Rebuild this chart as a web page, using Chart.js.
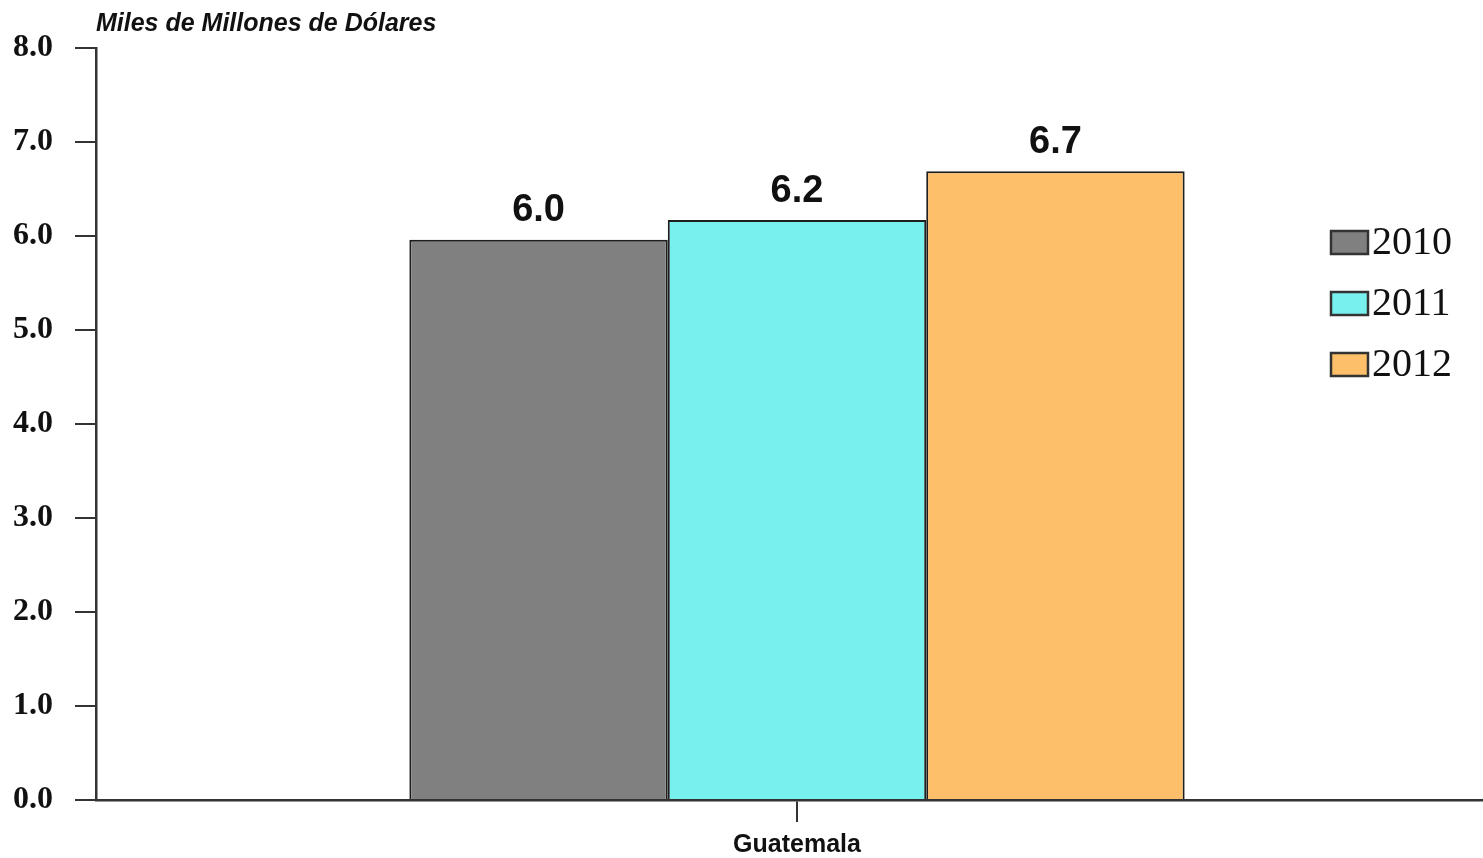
<!DOCTYPE html>
<html>
<head>
<meta charset="utf-8">
<script src="https://cdn.jsdelivr.net/npm/chart.js@4"></script>
<style>
  html, body { margin: 0; padding: 0; background: #fff; overflow: hidden; }
  #wrap { width: 1483px; height: 858px; overflow: hidden; }
</style>
</head>
<body>
<div id="wrap"><canvas id="exports" width="1498" height="858"></canvas></div>
<script>
var paises = ["Guatemala"];
var anios = ["2010", "2011", "2012"];
var valores_2010 = [5.96];
var valores_2011 = [6.17];
var valores_2012 = [6.69];
var ejeY = [0, 1, 2, 3, 4, 5, 6, 7, 8];

var colores = ["#808080", "#78F1EE", "#FDBF69"];
var borde = "#1e1e1e";

// unidades arriba del eje
var tituloPlugin = {
	id: "unidades",
	afterDraw: function(chart) {
		var ctx = chart.ctx;
		ctx.save();
		ctx.font = "italic bold 25px 'Liberation Sans', Arial, sans-serif";
		ctx.fillStyle = "#111";
		ctx.textBaseline = "middle";
		ctx.textAlign = "left";
		ctx.fillText("Miles de Millones de Dólares", chart.chartArea.left, 24);
		ctx.restore();
	}
};

// valores sobre cada barra
var valoresPlugin = {
	id: "valores",
	afterDatasetsDraw: function(chart) {
		var ctx = chart.ctx;
		ctx.save();
		ctx.font = "bold 38px 'Liberation Sans Narrow', 'Liberation Sans', Arial, sans-serif";
		ctx.fillStyle = "#111";
		ctx.textAlign = "center";
		ctx.textBaseline = "bottom";
		chart.data.datasets.forEach(function(ds, i) {
			chart.getDatasetMeta(i).data.forEach(function(bar, j) {
				ctx.fillText(ds.data[j].toFixed(1), bar.x, bar.y - 10);
			});
		});
		ctx.restore();
	}
};

// leyenda a la derecha
var leyendaPlugin = {
	id: "leyenda",
	afterDraw: function(chart) {
		var ctx = chart.ctx;
		ctx.save();
		chart.data.datasets.forEach(function(ds, i) {
			var y = 242 + i * 61;
			ctx.fillStyle = ds.backgroundColor;
			ctx.fillRect(1331, y - 11, 37, 23);
			ctx.lineWidth = 2.5;
			ctx.strokeStyle = "#333";
			ctx.strokeRect(1331, y - 11, 37, 23);
			ctx.fillStyle = "#111";
			ctx.font = "40px 'Liberation Serif', 'Times New Roman', serif";
			ctx.textAlign = "left";
			ctx.textBaseline = "middle";
			ctx.fillText(ds.label, 1372, y + 1);
		});
		ctx.restore();
	}
};

var chartdata = {
	labels: paises,
	datasets: [
		{
			label: anios[0],
			backgroundColor: colores[0],
			borderColor: borde,
			borderWidth: 2,
			data: valores_2010
		},
		{
			label: anios[1],
			backgroundColor: colores[1],
			borderColor: borde,
			borderWidth: 2,
			data: valores_2011
		},
		{
			label: anios[2],
			backgroundColor: colores[2],
			borderColor: borde,
			borderWidth: 2,
			data: valores_2012
		}
	]
};

var ctx = document.getElementById("exports");
var grafica = new Chart(ctx, {
	type: "bar",
	data: chartdata,
	plugins: [tituloPlugin, valoresPlugin, leyendaPlugin],
	options: {
		responsive: false,
		animation: false,
		layout: { padding: { top: 48, right: 0, left: 0, bottom: 0 } },
		categoryPercentage: 0.553,
		barPercentage: 1.0,
		plugins: {
			legend: { display: false },
			tooltip: { enabled: false }
		},
		scales: {
			x: {
				grid: { display: true, drawOnChartArea: false, offset: false, tickLength: 22, color: "#333", lineWidth: 2 },
				border: { color: "#333", width: 2.5 },
				ticks: {
					color: "#111",
					padding: 8,
					font: { family: "'Liberation Sans Narrow', 'Liberation Sans', Arial, sans-serif", size: 25, weight: "bold" }
				},
				afterFit: function(scale) { scale.height = 58; }
			},
			y: {
				min: ejeY[0],
				max: ejeY[ejeY.length - 1],
				afterBuildTicks: function(scale) {
					scale.ticks = ejeY.map(function(v) { return { value: v }; });
				},
				grid: { drawOnChartArea: false, tickLength: 21, color: "#333", lineWidth: 2 },
				border: { color: "#333", width: 2.5 },
				ticks: {
					color: "#111",
					padding: 22,
					font: { family: "'Liberation Serif', 'Times New Roman', serif", size: 32, weight: "bold" },
					callback: function(v) { return Number(v).toFixed(1); }
				},
				afterFit: function(scale) { scale.width = 96; }
			}
		}
	}
});
</script>
</body>
</html>
